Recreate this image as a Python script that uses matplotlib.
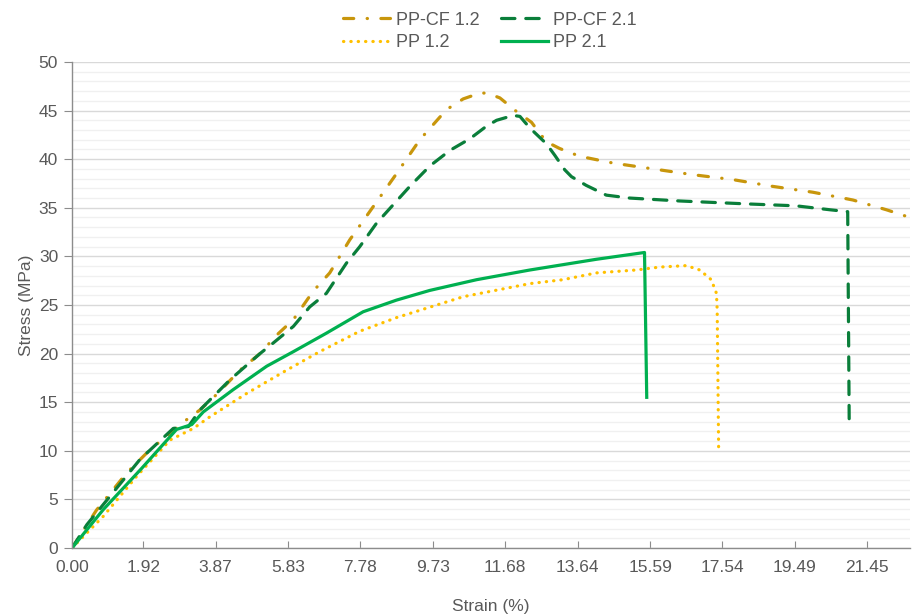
import numpy as np
import matplotlib
matplotlib.use("Agg")
import matplotlib.pyplot as plt

#%% Data: tensile curves, strain (%) vs stress (MPa)
ppcf12_strain = [0.00, 0.66, 1.47, 2.10, 3.09, 3.45, 3.90, 4.53, 5.07, 5.52, 5.97, 6.50, 6.95,
                 7.49, 8.12, 8.75, 9.38, 10.10, 10.55, 11.00, 11.20, 11.54, 11.99, 12.39, 12.79,
                 13.15, 13.69, 14.59, 15.67, 16.75, 17.82, 18.90, 19.98, 21.06, 21.96, 22.60]
ppcf12_stress = [0.0, 3.9, 7.7, 10.1, 13.2, 14.2, 15.8, 18.3, 20.0, 21.9, 23.5, 26.4, 28.3,
                 31.7, 35.1, 38.5, 42.0, 45.1, 46.2, 46.8, 46.8, 46.3, 44.9, 43.8, 41.8,
                 41.1, 40.3, 39.6, 39.0, 38.4, 37.9, 37.2, 36.6, 35.8, 34.8, 34.0]

ppcf21_strain = [0.00, 0.40, 1.02, 1.83, 2.73, 3.14, 3.45, 4.26, 5.07, 5.43, 5.97, 6.41, 6.86,
                 7.40, 7.76, 8.21, 9.11, 9.65, 10.19, 10.73, 11.18, 11.45, 11.90, 12.08, 12.35,
                 12.79, 13.02, 13.29, 13.47, 13.87, 14.41, 15.04, 16.39, 18.19, 19.53, 20.43,
                 20.92, 20.96]
ppcf21_stress = [0.0, 2.4, 5.3, 9.1, 12.3, 12.5, 14.2, 17.3, 20.0, 21.1, 22.8, 24.8, 26.2,
                 29.3, 31.0, 33.4, 37.2, 39.3, 40.9, 42.1, 43.4, 44.0, 44.5, 44.4, 43.2,
                 41.6, 40.4, 38.9, 38.2, 37.3, 36.3, 36.0, 35.7, 35.4, 35.2, 34.8,
                 34.6, 13.3]

pp12_strain = [0.00, 0.84, 1.74, 2.64, 3.27, 3.72, 4.71, 5.79, 6.68, 7.76, 8.75, 10.55, 12.35,
               13.24, 14.14, 15.22, 15.85, 16.57, 16.93, 17.24, 17.38, 17.40, 17.42, 17.44]
pp12_stress = [0.0, 3.25, 7.36, 11.1, 12.3, 13.5, 15.9, 18.3, 20.2, 22.3, 23.7, 25.85, 27.2,
               27.6, 28.3, 28.6, 28.9, 29.05, 28.6, 27.6, 26.2, 24.5, 17.3, 9.8]

pp21_strain = [0.00, 0.84, 1.88, 2.82, 3.23, 3.54, 4.35, 5.25, 5.97, 6.86, 7.85, 8.75, 9.65,
               10.91, 12.35, 14.14, 15.44, 15.50]
pp21_stress = [0.0, 3.94, 8.2, 12.2, 12.7, 14.0, 16.3, 18.7, 20.2, 22.1, 24.3, 25.5, 26.5,
               27.6, 28.6, 29.7, 30.4, 15.5]

xtick_vals = [0.00, 1.92, 3.87, 5.83, 7.78, 9.73, 11.68, 13.64, 15.59, 17.54, 19.49, 21.45]

#%% Style
gold   = '#C8960C'
dgreen = '#0A7E3A'
green  = '#00B050'
yellow = '#FFC000'
grey   = '#595959'
lw     = 2.3

plt.rcParams['font.family'] = ['Liberation Sans', 'DejaVu Sans']

fig = plt.figure(figsize=(9.13, 6.16), dpi=100)
ax = fig.add_axes([0.0789, 0.1104, 0.9178, 0.789])

ax.plot(ppcf12_strain, ppcf12_stress, color=gold, lw=lw, ls=(0, (3.2, 4.2, 0.1, 4.2)),
        dash_capstyle='round', solid_joinstyle='round', label='PP-CF 1.2')
ax.plot(pp12_strain, pp12_stress, color=yellow, lw=lw, ls=(0, (0.1, 2.2)),
        dash_capstyle='round', label='PP 1.2')
ax.plot(ppcf21_strain, ppcf21_stress, color=dgreen, lw=lw, ls=(0, (4.2, 3.4)),
        dash_capstyle='round', solid_joinstyle='round', label='PP-CF 2.1')
ax.plot(pp21_strain, pp21_stress, color=green, lw=lw, ls='-',
        solid_joinstyle='round', label='PP 2.1')

ax.set_xlim(0, 22.6)
ax.set_ylim(0, 50)
ax.set_yticks(np.arange(0, 51, 5))
ax.set_yticks(np.arange(0, 51, 1), minor=True)
ax.set_xticks(xtick_vals)
ax.set_xticklabels([f'{v:.2f}' for v in xtick_vals])

# gridlines: light minor every 1 MPa, slightly darker major every 5 MPa
ax.grid(axis='y', which='minor', color='#F0F0F0', lw=1.0)
ax.grid(axis='y', which='major', color='#D9D9D9', lw=1.0)
ax.set_axisbelow(True)

for s in ['top', 'right']:
    ax.spines[s].set_visible(False)
for s in ['left', 'bottom']:
    ax.spines[s].set_color('#8C8C8C')
    ax.spines[s].set_linewidth(1.0)

ax.tick_params(axis='y', which='major', direction='out', length=6, color='#8C8C8C',
               labelsize=12.5, labelcolor=grey, pad=4)
ax.tick_params(axis='y', which='minor', length=0)
ax.tick_params(axis='x', direction='in', length=5, color='#8C8C8C',
               labelsize=12.5, labelcolor=grey, pad=9)

ax.set_xlabel('Strain (%)', fontsize=12.5, color=grey, labelpad=17)
ax.set_ylabel('Stress (MPa)', fontsize=12.5, color=grey, labelpad=3)

fig.legend(loc='upper center', bbox_to_anchor=(0.537, 1.0), ncol=2, frameon=False,
           fontsize=13, labelcolor=grey, handlelength=2.6, handletextpad=0.3,
           columnspacing=1.2, labelspacing=0.3, borderaxespad=0.25)

fig.savefig('out.png', dpi=100)
